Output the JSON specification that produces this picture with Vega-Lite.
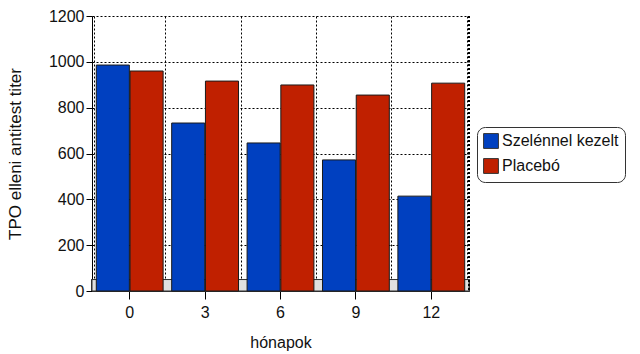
{
  "$schema": "https://vega.github.io/schema/vega-lite/v6.json",
  "width": 377,
  "height": 275,
  "autosize": "none",
  "padding": {"left": 92, "top": 16, "right": 171, "bottom": 63},
  "background": "white",
  "config": {
    "font": "Liberation Sans",
    "view": {"stroke": null},
    "axis": {"labelFont": "Liberation Sans", "titleFont": "Liberation Sans", "labelColor": "#111", "titleColor": "#111"}
  },
  "data": {
    "values": [
      {"month": "0", "group": "Szelénnel kezelt", "value": 986},
      {"month": "0", "group": "Placebó", "value": 960},
      {"month": "3", "group": "Szelénnel kezelt", "value": 733},
      {"month": "3", "group": "Placebó", "value": 916},
      {"month": "6", "group": "Szelénnel kezelt", "value": 646},
      {"month": "6", "group": "Placebó", "value": 899},
      {"month": "9", "group": "Szelénnel kezelt", "value": 572},
      {"month": "9", "group": "Placebó", "value": 855},
      {"month": "12", "group": "Szelénnel kezelt", "value": 414},
      {"month": "12", "group": "Placebó", "value": 907}
    ]
  },
  "layer": [
    {
      "mark": {"type": "rect", "color": "#e0e0e0", "stroke": "#333", "strokeWidth": 1},
      "encoding": {
        "y": {"datum": 50, "type": "quantitative"},
        "y2": {"datum": 0}
      }
    },
    {
      "mark": {"type": "bar", "opacity": 0},
      "encoding": {
        "x": {"field": "month", "type": "ordinal", "sort": ["0", "3", "6", "9", "12"],
          "axis": {"grid": true, "tickBand": "extent", "gridDash": [2, 2], "gridColor": "#000", "gridOpacity": 1, "labels": false, "ticks": false, "domain": false, "title": null}},
        "y": {"datum": 0, "type": "quantitative"}
      }
    },
    {
      "mark": {"type": "bar", "stroke": "#1a1a1a", "strokeWidth": 1},
      "encoding": {
        "x": {"field": "month", "type": "ordinal", "sort": ["0", "3", "6", "9", "12"],
          "scale": {"paddingInner": 0.06, "paddingOuter": 0.03},
          "axis": {"title": "hónapok", "titleFontSize": 16, "titleFontWeight": "normal", "titlePadding": 14, "labelFontSize": 16, "labelAngle": 0, "labelPadding": 5, "tickSize": 8, "tickColor": "#000", "domainColor": "#000", "grid": false, "orient": "bottom"}},
        "xOffset": {"field": "group", "type": "nominal", "sort": ["Szelénnel kezelt", "Placebó"], "scale": {"paddingInner": 0.02, "paddingOuter": 0.06}},
        "y": {"field": "value", "type": "quantitative",
          "scale": {"domain": [0, 1200]},
          "axis": {"title": "TPO elleni antitest titer", "titleFontSize": 17, "titleFontWeight": "normal", "titlePadding": 24, "labelFontSize": 16, "format": "d", "values": [0, 200, 400, 600, 800, 1000, 1200], "tickSize": 6, "tickColor": "#000", "domainColor": "#000", "grid": true, "gridDash": [2, 2], "gridColor": "#000", "gridOpacity": 1}},
        "color": {"field": "group", "type": "nominal", "sort": ["Szelénnel kezelt", "Placebó"],
          "scale": {"domain": ["Szelénnel kezelt", "Placebó"], "range": ["#0040c0", "#c02000"]},
          "legend": {"title": null, "orient": "none", "legendX": 385, "legendY": 111, "symbolType": "square", "symbolSize": 220, "symbolStrokeColor": "#333", "symbolStrokeWidth": 1, "labelFontSize": 16, "labelColor": "#111", "rowPadding": 5, "padding": 6, "strokeColor": "#333", "cornerRadius": 8, "fillColor": "white", "labelOffset": 3}}
      }
    },
    {
      "mark": {"type": "rule", "color": "#000", "strokeDash": [2, 2]},
      "encoding": {"x": {"value": 377}, "y": {"value": 0}, "y2": {"value": 275}}
    }
  ],
  "resolve": {"axis": {"x": "independent"}}
}
